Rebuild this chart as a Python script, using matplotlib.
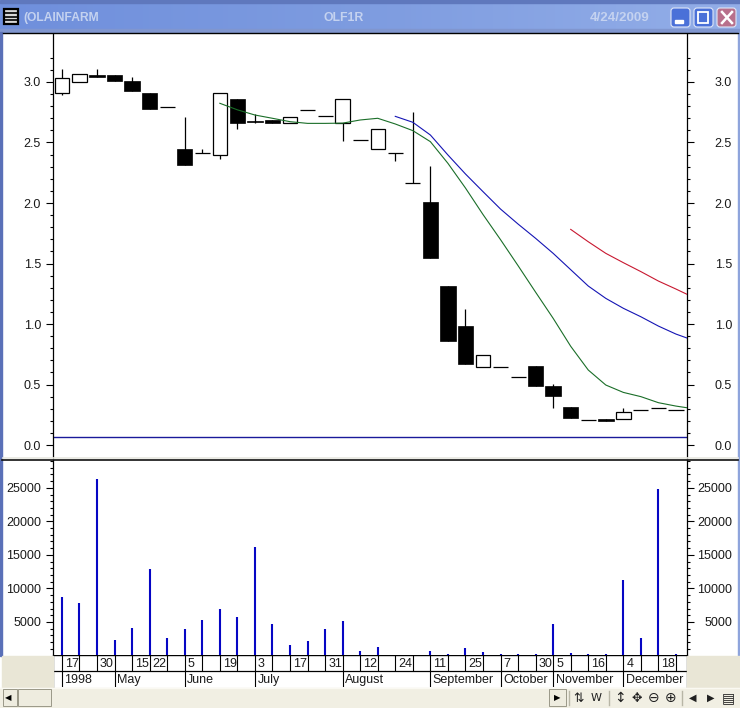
import numpy as np
import matplotlib
matplotlib.use("Agg")
import matplotlib.pyplot as plt
from matplotlib.patches import Rectangle, FancyBboxPatch
from matplotlib.ticker import FixedLocator, NullFormatter
from matplotlib.transforms import ScaledTranslation

# -------------------------------
# Data
# -------------------------------

opens = [2.91, 3.00, 3.058, 3.058, 3.008, 2.906, 2.79, 2.45, 2.41, 2.40, 2.86, 2.68,
         2.685, 2.66, 2.766, 2.716, 2.66, 2.518, 2.45, 2.41, 2.163, 2.008, 1.314, 0.983,
         0.647, 0.642, 0.562, 0.653, 0.488, 0.314, 0.204, 0.212, 0.212, 0.287, 0.303, 0.289]
closes = [3.03, 3.066, 3.04, 3.01, 2.928, 2.78, 2.79, 2.31, 2.41, 2.906, 2.66, 2.67,
          2.665, 2.71, 2.766, 2.716, 2.857, 2.518, 2.61, 2.41, 2.163, 1.548, 0.862, 0.672,
          0.741, 0.642, 0.562, 0.49, 0.408, 0.226, 0.204, 0.20, 0.27, 0.287, 0.303, 0.289]
highs = [3.107, 3.066, 3.11, 3.058, 3.04, 2.906, 2.79, 2.71, 2.45, 2.906, 2.86, 2.735,
         2.685, 2.71, 2.766, 2.716, 2.857, 2.518, 2.61, 2.41, 2.755, 2.306, 1.314, 1.124,
         0.741, 0.642, 0.562, 0.653, 0.504, 0.314, 0.204, 0.212, 0.303, 0.287, 0.31, 0.289]
lows = [2.89, 3.00, 3.04, 3.01, 2.928, 2.78, 2.79, 2.31, 2.41, 2.36, 2.61, 2.66,
        2.665, 2.66, 2.766, 2.716, 2.515, 2.518, 2.45, 2.35, 2.163, 1.548, 0.862, 0.672,
        0.647, 0.642, 0.562, 0.49, 0.308, 0.226, 0.204, 0.20, 0.212, 0.287, 0.303, 0.289]
volumes = [8650, 7900, 26370, 2240, 4130, 12830, 2540, 3980, 5220, 6870, 5670, 16120,
           4630, 1640, 2090, 3980, 5070, 600, 1340, 100, 100, 600, 150, 1190,
           450, 150, 150, 150, 4630, 300, 150, 150, 11300, 2540, 24900, 150]

ma_green = [2.824, 2.77, 2.727, 2.70, 2.672, 2.658, 2.658, 2.66, 2.686, 2.70, 2.653, 2.598,
            2.507, 2.328, 2.124, 1.905, 1.697, 1.482, 1.263, 1.047, 0.816, 0.62, 0.496, 0.435,
            0.40, 0.35, 0.322, 0.30]
ma_blue = [2.716, 2.667, 2.562, 2.397, 2.24, 2.094, 1.95, 1.826, 1.708, 1.584, 1.449, 1.314,
           1.212, 1.13, 1.06, 0.983, 0.917, 0.865]
ma_red = [1.782, 1.68, 1.584, 1.507, 1.433, 1.355, 1.289, 1.22]
green_start = 9
blue_start = 19
red_start = 29
base_level = 0.064

price_labels = [0.0, 0.5, 1.0, 1.5, 2.0, 2.5, 3.0]
volume_labels = [5000, 10000, 15000, 20000, 25000]

day_idx = [0, 2, 4, 5, 7, 9, 11, 13, 15, 17, 19, 21, 23, 25, 27, 28, 30, 32, 34]
day_labels = ["17", "30", "15", "22", "5", "19", "3", "17", "31", "12", "24", "11", "25",
              "7", "30", "5", "16", "4", "18"]
month_idx = [0, 3, 7, 11, 16, 21, 25, 28, 32]
month_labels = ["1998", "May", "June", "July", "August", "September", "October",
                "November", "December"]

# -------------------------------
# Layout (pixels)
# -------------------------------

W, H = 740, 708
LEFT, RIGHT = 53, 686.5
FONT = "Liberation Sans"
VOL_BLUE = "#0606c4"
TEXT_COL = "#1a1a1a"
TITLE_COL = "#c4d2f0"


def px_axes(fig, x0, y0, x1, y1, **kw):
    """Axes placed with pixel coordinates, origin top left."""
    return fig.add_axes([x0 / W, 1 - y1 / H, (x1 - x0) / W, (y1 - y0) / H], **kw)


def draw_chrome(ax):
    """Window frame, title bar and bottom toolbar."""
    ax.set_xlim(0, W)
    ax.set_ylim(H, 0)
    ax.axis("off")

    # title bar
    grad = np.linspace(0, 1, 256).reshape(1, -1)
    cmap = matplotlib.colors.LinearSegmentedColormap.from_list("t", ["#6f8fdc", "#7e9ce0", "#93aee8"])
    ax.imshow(grad, extent=(0, W, 31, 3), aspect="auto", cmap=cmap, zorder=1)
    ax.set_xlim(0, W)
    ax.set_ylim(H, 0)
    ax.add_patch(Rectangle((0, 0), W, 3, color="#5f78bd", zorder=2))
    ax.add_patch(Rectangle((0, 29), W, 3, color="#8096cf", zorder=2))
    ax.add_patch(Rectangle((0, 32), 2, 624, color="#5a70b8", zorder=2))
    ax.add_patch(Rectangle((738, 32), 2, 624, color="#8ea4dc", zorder=2))

    # window icon
    ax.add_patch(Rectangle((4, 9), 14, 15, facecolor="#d8d8d8", edgecolor="black", lw=1.6, zorder=3))
    for y in (13, 17, 20):
        ax.plot([5, 17], [y, y], color="black", lw=1.2, zorder=4)

    ax.text(23, 18, "(OLAINFARM", fontsize=8.7, fontweight="bold", family=FONT, color=TITLE_COL, va="center", zorder=4)
    ax.text(323, 18, "OLF1R", fontsize=8.8, fontweight="bold", family=FONT, color=TITLE_COL, va="center", zorder=4)
    ax.text(590, 18, "4/24/2009", fontsize=9.6, fontweight="bold", family=FONT, color=TITLE_COL, va="center", zorder=4)

    # window buttons
    for x0, col in ((671, "#4a70d8"), (694, "#4a70d8"), (717, "#b8708c")):
        ax.add_patch(FancyBboxPatch((x0 + 1, 9), 17, 17, boxstyle="round,pad=1,rounding_size=3",
                                    facecolor=col, edgecolor="#dfe6f7", lw=0.8, zorder=3))
    ax.add_patch(Rectangle((675, 20), 8, 3, color="white", zorder=4))
    ax.add_patch(Rectangle((698, 12), 10, 11, fill=False, edgecolor="white", lw=1.3, zorder=4))
    ax.plot([722, 732], [12, 23], color="white", lw=1.8, zorder=4)
    ax.plot([722, 732], [23, 12], color="white", lw=1.8, zorder=4)

    # beige strips around the date rows
    ax.add_patch(Rectangle((2, 656), 51, 31, color="#e9e6d6", zorder=2))
    ax.add_patch(Rectangle((687, 656), 53, 32, color="#e9e6d6", zorder=2))
    ax.add_patch(Rectangle((0, 688), W, 20, color="#f1efe3", zorder=2))
    ax.plot([0, W], [687.5, 687.5], color="#faf9f2", lw=1, zorder=3)

    # scrollbar
    ax.add_patch(Rectangle((3, 689), 14, 17, facecolor="#eeecdf", edgecolor="#9a9888", lw=0.7, zorder=3))
    ax.add_patch(Rectangle((18, 689), 33, 17, facecolor="#eeecdf", edgecolor="#9a9888", lw=0.7, zorder=3))
    ax.add_patch(Rectangle((549, 689), 17, 17, facecolor="#eeecdf", edgecolor="#9a9888", lw=0.7, zorder=3))
    ax.text(8.5, 698, "\u25c0", fontsize=6, ha="center", va="center", color="black", zorder=4)
    ax.text(557.5, 698, "\u25b6", fontsize=6, ha="center", va="center", color="black", zorder=4)

    # toolbar glyphs
    for x in (569, 609, 682):
        ax.plot([x, x], [691, 705], color="#b8b6a6", lw=1, zorder=3)
    glyphs = (("\u21c5", 579, 9), ("W", 596, 8), ("\u2195", 620, 10), ("\u2725", 637, 9),
              ("\u2296", 654, 10), ("\u2295", 671, 10), ("\u25c0", 693, 7), ("\u25b6", 711, 7),
              ("\u25a4", 728, 10))
    for s, x, size in glyphs:
        ax.text(x, 698, s, fontsize=size, ha="center", va="center", color="#202020", zorder=4)


def style_panel(ax, labels, minor_ticks, fmt):
    """Ticks on both sides, labels right aligned on both sides like the original."""
    ax.set_facecolor("white")
    for side in ("top", "bottom"):
        ax.spines[side].set_visible(False)
    for side in ("left", "right"):
        ax.spines[side].set_linewidth(0.9)
    ax.set_xticks([])
    ax.yaxis.set_major_locator(FixedLocator(labels))
    ax.yaxis.set_minor_locator(FixedLocator(minor_ticks))
    ax.yaxis.set_minor_formatter(NullFormatter())
    ax.yaxis.set_major_formatter(NullFormatter())
    ax.tick_params(axis="y", which="major", length=5.2, width=0.8, left=True, right=True)
    ax.tick_params(axis="y", which="minor", length=2.3, width=0.8, left=True, right=True)

    # labels sit a touch below their tick
    trans = ax.get_yaxis_transform() + ScaledTranslation(0, -1.5 / 100, ax.figure.dpi_scale_trans)
    left_x = -(LEFT - 41) / (RIGHT - LEFT)
    right_x = 1 + (732 - RIGHT) / (RIGHT - LEFT)
    for v in labels:
        s = fmt.format(v)
        for x in (left_x, right_x):
            ax.text(x, v, s, transform=trans, ha="right", va="center", fontsize=9,
                    family=FONT, color=TEXT_COL, clip_on=False)


def plot_candles(ax):
    x = np.arange(len(opens))
    ax.vlines(x, lows, highs, color="black", lw=0.9, zorder=2)
    for i, (o, c) in enumerate(zip(opens, closes)):
        if o == c:
            ax.hlines(o, i - 0.43, i + 0.43, color="black", lw=0.9, zorder=3)
        elif c > o:
            ax.bar(i, c - o, bottom=o, width=0.82, facecolor="white", edgecolor="black", lw=0.9, zorder=3)
        else:
            ax.bar(i, o - c, bottom=c, width=0.88, facecolor="black", edgecolor="black", lw=0.5, zorder=3)

    ax.plot(np.arange(len(ma_green)) + green_start, ma_green, color="#1a6e28", lw=0.8, zorder=4)
    ax.plot(np.arange(len(ma_blue)) + blue_start, ma_blue, color="#1414b4", lw=0.8, zorder=4)
    ax.plot(np.arange(len(ma_red)) + red_start, ma_red, color="#c81830", lw=0.8, zorder=4)
    ax.axhline(base_level, color="#1a1a9a", lw=1.0, zorder=1)


def plot_dates(ax, xlim):
    ax.set_xlim(*xlim)
    ax.set_ylim(2, 0)
    ax.set_facecolor("white")
    ax.set_xticks([])
    ax.set_yticks([])
    for side in ("top", "bottom"):
        ax.spines[side].set_visible(False)
    ax.spines["left"].set_linewidth(0.9)
    ax.spines["right"].set_linewidth(0.9)
    ax.axhline(0.03, color="black", lw=1.0)
    ax.axhline(1, color="black", lw=0.9)
    ax.vlines(np.arange(len(volumes)), 0, 1, color="black", lw=0.8)
    ax.vlines(month_idx, 1, 2, color="black", lw=0.8)
    for i, s in zip(day_idx, day_labels):
        ax.text(i + 0.17, 0.58, s, fontsize=9, family=FONT, va="center", color=TEXT_COL)
    for i, s in zip(month_idx, month_labels):
        ax.text(i + 0.14, 1.58, s, fontsize=9, family=FONT, va="center", color=TEXT_COL)


# -------------------------------
# Figure
# -------------------------------

if __name__ == "__main__":
    fig = plt.figure(figsize=(W / 100, H / 100), dpi=100, facecolor="white")
    chrome = px_axes(fig, 0, 0, W, H)
    draw_chrome(chrome)

    xlim = (-0.51, 35.6)

    ax_price = px_axes(fig, LEFT, 32, RIGHT, 458)
    plot_candles(ax_price)
    ax_price.set_xlim(*xlim)
    ax_price.set_ylim(-0.107, 3.413)
    style_panel(ax_price, price_labels, np.arange(0.1, 3.25, 0.1), "{:.1f}")

    ax_vol = px_axes(fig, LEFT, 460, RIGHT, 655.5)
    ax_vol.vlines(np.arange(len(volumes)), 0, volumes, color=VOL_BLUE, lw=1.5)
    ax_vol.set_xlim(*xlim)
    ax_vol.set_ylim(0, 29150)
    style_panel(ax_vol, volume_labels, np.arange(1000, 29001, 1000), "{:.0f}")

    ax_dates = px_axes(fig, LEFT, 655, RIGHT, 687)
    plot_dates(ax_dates, xlim)

    # panel separators
    chrome.plot([3, 738], [32.5, 32.5], color="black", lw=1.0, zorder=5)
    chrome.plot([3, 738], [457.5, 457.5], color="#e8e8e0", lw=1.2, zorder=5)
    chrome.plot([2, 738], [460, 460], color="#101010", lw=1.2, zorder=5)
    chrome.set_zorder(5)
    chrome.patch.set_alpha(0)

    fig.savefig("out.png", dpi=100)
